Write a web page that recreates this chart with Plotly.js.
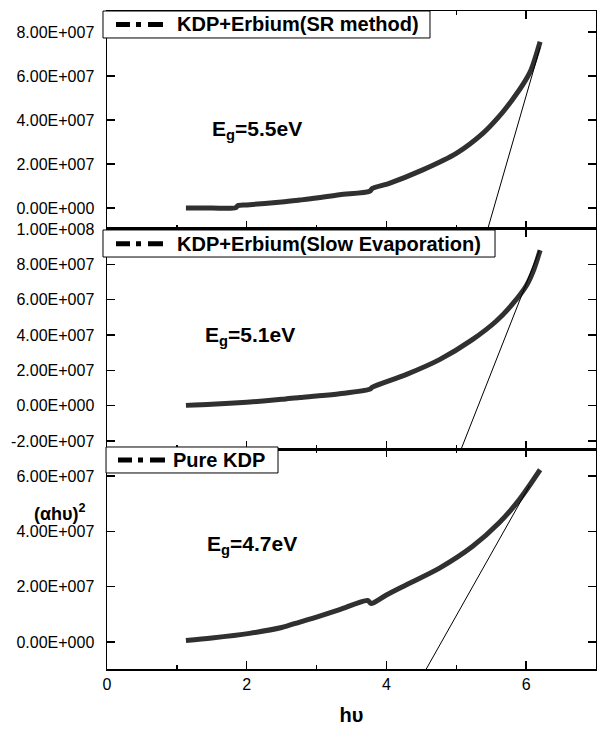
<!DOCTYPE html>
<html><head><meta charset="utf-8">
<script src="https://cdn.plot.ly/plotly-3.0.1.min.js"></script>
<style>html,body{margin:0;padding:0;background:#fff}#chart{width:597px;height:731px}</style>
</head><body><div id="chart"></div>
<script>
const FONT = 'Liberation Sans, Arial, Helvetica, sans-serif';

// Series names (legend texts) and band gap labels
const seriesNames = ['KDP+Erbium(SR method)', 'KDP+Erbium(Slow Evaporation)', 'Pure KDP'];
const bandGapLabels = ['E<sub>g</sub>=5.5eV', 'E<sub>g</sub>=5.1eV', 'E<sub>g</sub>=4.7eV'];

// KDP+Erbium (SR method)
const hvSR  = [1.13, 1.5, 1.84, 1.87, 2.0, 2.5, 2.76, 3.0, 3.33, 3.76, 3.8, 4.04, 4.52, 5.0, 5.38, 5.61, 5.8, 5.95, 6.07, 6.2];
const valSR = [0, 0, 0.01e7, 0.1e7, 0.14e7, 0.27e7, 0.36e7, 0.45e7, 0.6e7, 0.76e7, 0.89e7, 1.12e7, 1.73e7, 2.48e7, 3.39e7, 4.15e7, 4.91e7, 5.59e7, 6.27e7, 7.55e7];
const fitHvSR  = [5.45, 6.2];
const fitValSR = [-0.955e7, 7.3e7];

// KDP+Erbium (Slow Evaporation)
const hvSE  = [1.13, 1.5, 2.0, 2.5, 2.76, 3.0, 3.33, 3.76, 3.8, 4.28, 4.76, 5.23, 5.57, 5.8, 6.0, 6.11, 6.2];
const valSE = [0.02e7, 0.08e7, 0.2e7, 0.36e7, 0.47e7, 0.55e7, 0.68e7, 0.93e7, 1.05e7, 1.76e7, 2.61e7, 3.74e7, 4.78e7, 5.73e7, 6.77e7, 7.71e7, 8.8e7];
const fitHvSE  = [5.07, 6.19];
const fitValSE = [-2.45e7, 8.8e7];

// Pure KDP
const hvPure  = [1.13, 1.5, 2.04, 2.5, 2.76, 3.0, 3.33, 3.73, 3.78, 4.0, 4.28, 4.76, 5.23, 5.61, 5.9, 6.2];
const valPure = [0.05e7, 0.14e7, 0.31e7, 0.52e7, 0.72e7, 0.9e7, 1.17e7, 1.5e7, 1.39e7, 1.7e7, 2.06e7, 2.67e7, 3.45e7, 4.3e7, 5.14e7, 6.23e7];
const fitHvPure  = [4.57, 6.05];
const fitValPure = [-0.98e7, 5.66e7];

// Tick labels
const yTickValsTop = [0, 2e7, 4e7, 6e7, 8e7];
const yTickTextTop = ['0.00E+000', '2.00E+007', '4.00E+007', '6.00E+007', '8.00E+007'];
const yTickValsMid = [-2e7, 0, 2e7, 4e7, 6e7, 8e7, 1e8];
const yTickTextMid = ['-2.00E+007', '0.00E+000', '2.00E+007', '4.00E+007', '6.00E+007', '8.00E+007', '1.00E+008'];
const yTickValsBot = [0, 2e7, 4e7, 6e7];
const yTickTextBot = ['0.00E+000', '2.00E+007', '4.00E+007', '6.00E+007'];

const curveColor = '#303030';
const curveStyle = {color: curveColor, width: 5, shape: 'spline', smoothing: 0.8};
const fitStyle = {color: '#000', width: 1};

const traces = [
  {x: hvSR, y: valSR, xaxis: 'x', yaxis: 'y', mode: 'lines', line: curveStyle, name: seriesNames[0]},
  {x: fitHvSR, y: fitValSR, xaxis: 'x', yaxis: 'y', mode: 'lines', line: fitStyle, name: 'linear fit'},
  {x: hvSE, y: valSE, xaxis: 'x2', yaxis: 'y2', mode: 'lines', line: curveStyle, name: seriesNames[1]},
  {x: fitHvSE, y: fitValSE, xaxis: 'x2', yaxis: 'y2', mode: 'lines', line: fitStyle, name: 'linear fit'},
  {x: hvPure, y: valPure, xaxis: 'x3', yaxis: 'y3', mode: 'lines', line: curveStyle, name: seriesNames[2]},
  {x: fitHvPure, y: fitValPure, xaxis: 'x3', yaxis: 'y3', mode: 'lines', line: fitStyle, name: 'linear fit'}
];

const tickFont = {family: FONT, size: 16, color: '#000'};
function xAxis(anchor, showLabels) {
  return {
    anchor: anchor, range: [0, 7], dtick: 2, tick0: 0,
    showline: true, linecolor: '#000', linewidth: 1.5, mirror: 'allticks',
    ticks: 'inside', ticklen: 8, tickwidth: 1.5, tickcolor: '#000',
    minor: {dtick: 1, tick0: 0, ticks: 'inside', ticklen: 4, tickwidth: 1.5, tickcolor: '#000'},
    showgrid: false, zeroline: false, showticklabels: showLabels,
    tickfont: tickFont
  };
}
function yAxis(domain, range, vals, text) {
  return {
    domain: domain, range: range, tickvals: vals, ticktext: text,
    showline: true, linecolor: '#000', linewidth: 1.5, mirror: 'allticks',
    ticks: 'inside', ticklen: 8, tickwidth: 1.5, tickcolor: '#000',
    showgrid: false, zeroline: false, tickfont: tickFont, ticklabelstandoff: 8
  };
}

const xTop = xAxis('y', false);
const xMid = xAxis('y2', false);
const xBot = xAxis('y3', true);
xBot.title = {text: 'hυ', font: {family: FONT, size: 20, color: '#000', weight: 'bold'}, standoff: 16};

// Legend boxes (paper coordinates): box extents, symbol span, text start
const legendBoxes = [
  {x0: -0.0082, x1: 0.6605, y0: 0.9590, y1: 1.0,    sx0: 0.0184, sx1: 0.1145, sy: 0.9795, tx: 0.1390},
  {x0: -0.0082, x1: 0.7935, y0: 0.6261, y1: 0.6672, sx0: 0.0184, sx1: 0.1145, sy: 0.6462, tx: 0.1390},
  {x0: -0.0020, x1: 0.3497, y0: 0.2979, y1: 0.3374, sx0: 0.0225, sx1: 0.1186, sy: 0.3176, tx: 0.1310}
];
const shapes = [];
const legendAnns = [];
legendBoxes.forEach(function (b, i) {
  shapes.push({type: 'rect', xref: 'paper', yref: 'paper', x0: b.x0, x1: b.x1, y0: b.y0, y1: b.y1,
    fillcolor: '#fff', line: {color: '#000', width: 1}, layer: 'above'});
  shapes.push({type: 'line', xref: 'paper', yref: 'paper', x0: b.sx0, x1: b.sx1, y0: b.sy, y1: b.sy,
    line: {color: '#000', width: 5, dash: '14px,6px,5px,7px,15px'}, layer: 'above'});
  legendAnns.push({text: seriesNames[i], xref: 'paper', yref: 'paper', x: b.tx, y: b.sy,
    xanchor: 'left', yanchor: 'middle', showarrow: false,
    font: {family: FONT, size: 20, color: '#000', weight: 'bold'}});
});

const annFont = {family: FONT, size: 21, color: '#000', weight: 'bold'};
const layout = {
  width: 597, height: 731,
  margin: {l: 107, r: 1, t: 11, b: 62},
  paper_bgcolor: '#fff', plot_bgcolor: '#fff',
  showlegend: false,
  xaxis: xTop, xaxis2: xMid, xaxis3: xBot,
  yaxis: yAxis([0.6687, 1], [-0.955e7, 8.95e7], yTickValsTop, yTickTextTop),
  yaxis2: yAxis([0.3343, 0.6687], [-2.45e7, 1.0e8], yTickValsMid, yTickTextMid),
  yaxis3: yAxis([0, 0.3343], [-0.98e7, 6.98e7], yTickValsBot, yTickTextBot),
  shapes: shapes,
  annotations: legendAnns.concat([
    {text: bandGapLabels[0], xref: 'x', yref: 'y', x: 2.15, y: 3.55e7, showarrow: false, font: annFont},
    {text: bandGapLabels[1], xref: 'x2', yref: 'y2', x: 2.05, y: 3.95e7, showarrow: false, font: annFont},
    {text: bandGapLabels[2], xref: 'x3', yref: 'y3', x: 2.07, y: 3.5e7, showarrow: false, font: annFont},
    {text: '(αhυ)<sup>2</sup>', xref: 'paper', yref: 'paper', x: -0.1534, y: 0.2173,
     xanchor: 'left', showarrow: false,
     font: {family: FONT, size: 18, color: '#000', weight: 'bold'}}
  ])
};

Plotly.newPlot('chart', traces, layout, {staticPlot: true, displayModeBar: false});
</script></body></html>
